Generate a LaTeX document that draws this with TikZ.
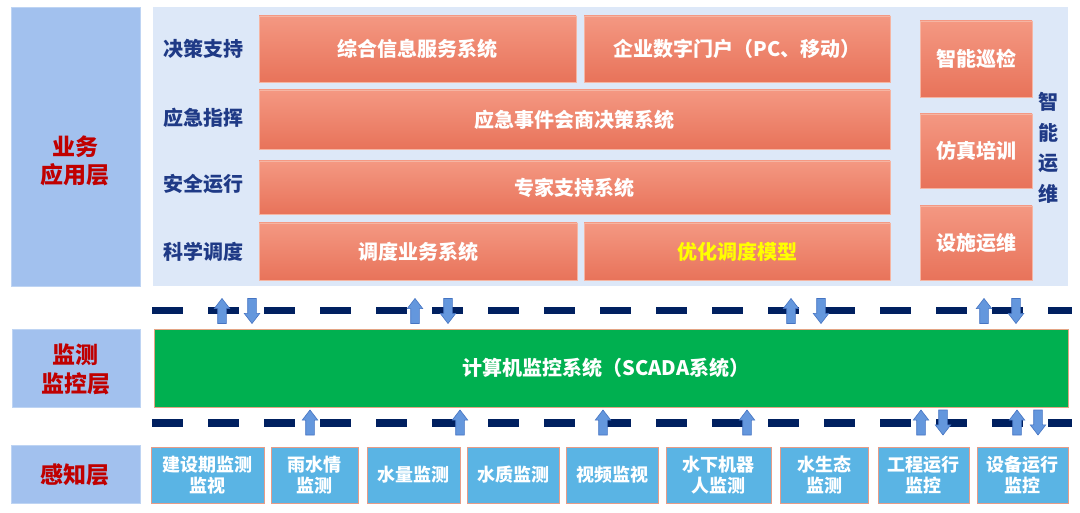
\documentclass[tikz,border=0pt]{standalone}
\usepackage{fontspec}
\setmainfont{Noto Sans CJK SC}
\usetikzlibrary{shapes.arrows}
\definecolor{labelbg}{HTML}{A2C1EE}
\definecolor{labelred}{HTML}{C00000}
\definecolor{panelbg}{HTML}{DDE8F8}
\definecolor{rowblue}{HTML}{1F3A86}
\definecolor{orangetop}{HTML}{F49882}
\definecolor{orangebot}{HTML}{E8735A}
\definecolor{orangeedge}{HTML}{F5B5A3}
\definecolor{scadagreen}{HTML}{00B050}
\definecolor{greenedge}{HTML}{E3A585}
\definecolor{sensebg}{HTML}{5AB4E4}
\definecolor{senseedge}{HTML}{E69C88}
\definecolor{dashnavy}{HTML}{002060}
\definecolor{arrowfill}{HTML}{6497DD}
\definecolor{arrowedge}{HTML}{4574C2}
\definecolor{modelyellow}{HTML}{FFFF00}
\begin{document}
\begin{tikzpicture}[x=1pt,y=-1pt,
  every node/.style={inner sep=0pt, outer sep=0pt},
  layerbox/.style={fill=labelbg, draw=labelbg!70!white, line width=0.6pt},
  layertxt/.style={text=labelred, font=\bfseries\fontsize{23}{28.5}\selectfont, align=center},
  rowlabel/.style={text=rowblue, font=\bfseries\fontsize{20}{24}\selectfont},
  sysbox/.style={top color=orangetop, bottom color=orangebot, draw=orangeedge, line width=0.8pt, text=white, font=\bfseries\fontsize{20}{24}\selectfont, align=center},
  scadabox/.style={fill=scadagreen, draw=greenedge, line width=0.8pt, text=white, font=\bfseries\fontsize{20}{24}\selectfont},
  sensebox/.style={fill=sensebg, draw=senseedge, line width=0.8pt, text=white, minimum height=56pt, font=\bfseries\fontsize{18}{21.5}\selectfont, align=center},
  dashline/.style={draw=dashnavy, line width=7.5pt, dash pattern=on 31pt off 25pt},
  arrowbase/.style={single arrow, fill=arrowfill, draw=arrowedge, line width=0.6pt, minimum height=25pt, minimum width=0pt, inner xsep=0pt, inner ysep=4pt, single arrow head extend=3.5pt, single arrow tip angle=75, text height=0pt, text depth=0pt, anchor=tail},
  uparrow/.style={arrowbase, rotate=90},
  downarrow/.style={arrowbase, rotate=-90}
]
\useasboundingbox (0,0) rectangle (1080,513);
\fill[white] (0,0) rectangle (1080,513);

% ---------- business application layer ----------
\node[layerbox, minimum width=129pt, minimum height=279pt] (lbiz) at (75.5,146.5) {};
\node[layertxt] (lbiztxt) at (75.5,161) {业务\\应用层};
\node[fill=panelbg, minimum width=915pt, minimum height=279pt] (panel) at (610.5,146.5) {};

\node[rowlabel] (r1) at (203,49) {决策支持};
\node[rowlabel] (r2) at (203,118) {应急指挥};
\node[rowlabel] (r3) at (203,184) {安全运行};
\node[rowlabel] (r4) at (203,252) {科学调度};

\node[sysbox, minimum width=317pt, minimum height=66pt] (zh) at (417.5,49) {综合信息服务系统};
\node[sysbox, minimum width=306pt, minimum height=66pt] (qy) at (737,49) {企业数字门户（PC、移动）};
\node[sysbox, minimum width=631pt, minimum height=59pt] (yj) at (574.5,119.5) {应急事件会商决策系统};
\node[sysbox, minimum width=631pt, minimum height=53pt] (zj) at (574.5,187.5) {专家支持系统};
\node[sysbox, minimum width=318pt, minimum height=57pt] (dd) at (418,251.5) {调度业务系统};
\node[sysbox, minimum width=306pt, minimum height=57pt, text=modelyellow] (yh) at (737,251.5) {优化调度模型};

\node[sysbox, minimum width=112pt, minimum height=76pt] (xj) at (976,59) {智能巡检};
\node[sysbox, minimum width=112pt, minimum height=74pt] (fz) at (976,151) {仿真培训};
\node[sysbox, minimum width=112pt, minimum height=74pt] (ss) at (976,243) {设施运维};
\node[rowlabel, align=center, font=\bfseries\fontsize{20}{30.5}\selectfont] (znyw) at (1048,148) {智\\能\\运\\维};

% ---------- monitoring layer ----------
\node[layerbox, minimum width=128pt, minimum height=78pt] (lmon) at (76,368) {};
\node[layertxt] (lmontxt) at (76,369.5) {监测\\监控层};
\node[scadabox, minimum width=914pt, minimum height=78pt] (scada) at (611,368) {};
\node[text=white, font=\bfseries\fontsize{20}{24}\selectfont] (scadatxt) at (606,368) {计算机监控系统（SCADA系统）};

% ---------- perception layer ----------
\node[layerbox, minimum width=129pt, minimum height=58pt] (lsen) at (75.5,474) {};
\node[layertxt] (lsentxt) at (75.5,475) {感知层};

\node[sensebox, minimum width=112.5pt] (s1) at (207.75,475) {建设期监测\\监视};
\node[sensebox, minimum width=87pt] (s2) at (314.5,475) {雨水情\\监测};
\node[sensebox, minimum width=93pt] (s3) at (413.5,475) {水量监测};
\node[sensebox, minimum width=92pt] (s4) at (513,475) {水质监测};
\node[sensebox, minimum width=91.5pt] (s5) at (612.25,475) {视频监视};
\node[sensebox, minimum width=105.5pt] (s6) at (718.75,475) {水下机器\\人监测};
\node[sensebox, minimum width=88pt] (s7) at (824,475) {水生态\\监测};
\node[sensebox, minimum width=91pt] (s8) at (923.5,475) {工程运行\\监控};
\node[sensebox, minimum width=91pt] (s9) at (1022.5,475) {设备运行\\监控};

% ---------- dashed separators ----------
\coordinate (d1a) at (152,310.5);
\coordinate (d1b) at (1072,310.5);
\coordinate (d2a) at (152,423);
\coordinate (d2b) at (1072,423);
\draw[dashline] (d1a) -- (d1b);
\draw[dashline] (d2a) -- (d2b);

% ---------- block arrows ----------
\node[uparrow] (ua1) at (222,323.5) {};
\node[downarrow] (da1) at (252,298.5) {};
\node[uparrow] (ua2) at (415,323.5) {};
\node[downarrow] (da2) at (448,298.5) {};
\node[uparrow] (ua3) at (791,323.5) {};
\node[downarrow] (da3) at (821,298.5) {};
\node[uparrow] (ua4) at (984,323.5) {};
\node[downarrow] (da4) at (1016,298.5) {};

\node[uparrow] (ub1) at (310,435) {};
\node[uparrow] (ub2) at (460,435) {};
\node[uparrow] (ub3) at (603,435) {};
\node[uparrow] (ub4) at (747,435) {};
\node[uparrow] (ub5) at (921,435) {};
\node[downarrow] (db5) at (943,410) {};
\node[uparrow] (ub6) at (1017,435) {};
\node[downarrow] (db6) at (1038,410) {};
\end{tikzpicture}
\end{document}
